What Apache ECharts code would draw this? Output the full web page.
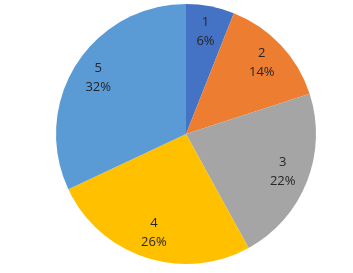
<!DOCTYPE html>
<html><head><meta charset="utf-8">
<script src="https://cdn.jsdelivr.net/npm/echarts@6/dist/echarts.min.js"></script>
<style>html,body{margin:0;padding:0;background:#fff}#c{width:353px;height:273px}</style>
</head><body><div id="c"></div>
<script>
const categories = ['1', '2', '3', '4', '5'];
const values = [6, 14, 22, 26, 32];
const colors = ['#4472C4', '#ED7D31', '#A5A5A5', '#FFC000', '#5B9BD5'];

const data = categories.map((c, i) => ({ name: c, value: values[i], itemStyle: { color: colors[i] } }));
const chart = echarts.init(document.getElementById('c'));
chart.setOption({
  animation: false,
  series: [
    {
      type: 'pie', center: [186, 134], radius: 130, startAngle: 90, clockwise: true,
      label: { show: false }, labelLine: { show: false },
      itemStyle: { borderWidth: 0 }, emphasis: { disabled: true },
      data: data
    },
    {
      type: 'pie', center: [186, 134], radius: [72, 130], startAngle: 90, clockwise: true,
      silent: true, itemStyle: { color: 'rgba(0,0,0,0)', borderWidth: 0 },
      label: {
        show: true, position: 'inside', formatter: p => p.name + '\n' + p.value + '%',
        color: '#262626', fontSize: 13, lineHeight: 19, fontFamily: 'Open Sans, sans-serif'
      },
      labelLine: { show: false },
      data: categories.map((c, i) => ({ name: c, value: values[i] }))
    }
  ]
});
</script></body></html>
